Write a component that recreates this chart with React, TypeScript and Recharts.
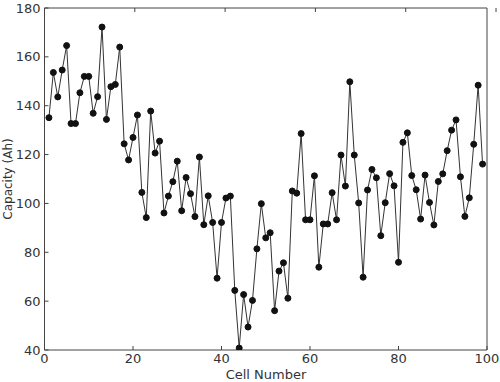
import { LineChart, Line, XAxis, YAxis } from 'recharts';

const cellNumbers: number[] = Array.from({ length: 99 }, (_, i) => i + 1);

const capacities: number[] = [
  135.1, 153.6, 143.6, 154.6, 164.6, 132.7, 132.7, 145.3, 152, 152,
  136.9, 143.7, 172.2, 134.4, 147.8, 148.7, 164, 124.4, 117.8, 127,
  136.2, 104.5, 94.2, 137.8, 120.6, 125.5, 96.1, 103, 108.9, 117.3,
  97, 110.6, 104, 94.6, 119, 91.3, 103.1, 92.2, 69.4, 92.2,
  102.2, 103, 64.4, 40.8, 62.7, 49.4, 60.3, 81.4, 99.9, 85.9,
  88, 56.1, 72.3, 75.7, 61.2, 105.1, 104.2, 128.6, 93.3, 93.3,
  111.3, 73.9, 91.6, 91.6, 104.4, 93.3, 119.8, 107.1, 149.8, 119.8,
  100.2, 69.8, 105.5, 113.9, 110.5, 86.8, 100.3, 112.2, 107.2, 75.9,
  125, 128.9, 111.4, 105.6, 93.6, 111.6, 100.4, 91.2, 109, 112.1,
  121.6, 130, 134.2, 110.9, 94.7, 102.3, 124.2, 148.4, 116.1,
];

const xTicks = [0, 20, 40, 60, 80, 100];
const yTicks = [40, 60, 80, 100, 120, 140, 160, 180];

const data = cellNumbers.map((cell, i) => ({ cell, capacity: capacities[i] }));

const axisColor = '#444';
const tickStyle = { fill: '#333', fontSize: 13, fontFamily: 'DejaVu Sans' };

export default function App() {
  return (
    <div style={{ position: 'fixed', left: 0, top: 0, width: 500, height: 382, background: '#fff' }}>
      <LineChart width={500} height={382} data={data} margin={{ top: 7, right: 12, bottom: 0, left: 0 }}>
        <XAxis
          dataKey="cell"
          type="number"
          domain={[0, 100]}
          ticks={xTicks}
          stroke={axisColor}
          tick={tickStyle}
          tickSize={-4}
          tickMargin={8}
          height={32}
          allowDataOverflow
        />
        <XAxis
          xAxisId="top"
          orientation="top"
          type="number"
          domain={[0, 100]}
          ticks={xTicks}
          stroke={axisColor}
          tickFormatter={() => ''}
          tickSize={-4}
          height={1}
        />
        <YAxis
          type="number"
          domain={[40, 180]}
          ticks={yTicks}
          stroke={axisColor}
          tick={tickStyle}
          tickSize={-4}
          tickMargin={8}
          width={44.5}
          allowDataOverflow
        />
        <YAxis
          yAxisId="right"
          orientation="right"
          type="number"
          domain={[40, 180]}
          ticks={yTicks}
          stroke={axisColor}
          tickFormatter={() => ''}
          tickSize={-4}
          width={1}
        />
        <Line
          dataKey="capacity"
          stroke="#333"
          strokeWidth={1}
          dot={{ r: 3, fill: '#111', stroke: '#111', strokeWidth: 1 }}
          isAnimationActive={false}
        />
        <text x={266} y={379} textAnchor="middle" fill="#333" fontSize={13} fontFamily="DejaVu Sans">
          Cell Number
        </text>
        <text
          x={12}
          y={179}
          textAnchor="middle"
          fill="#333"
          fontSize={12}
          fontFamily="DejaVu Sans"
          transform="rotate(-90 12 179)"
        >
          Capacity (Ah)
        </text>
      </LineChart>
    </div>
  );
}
